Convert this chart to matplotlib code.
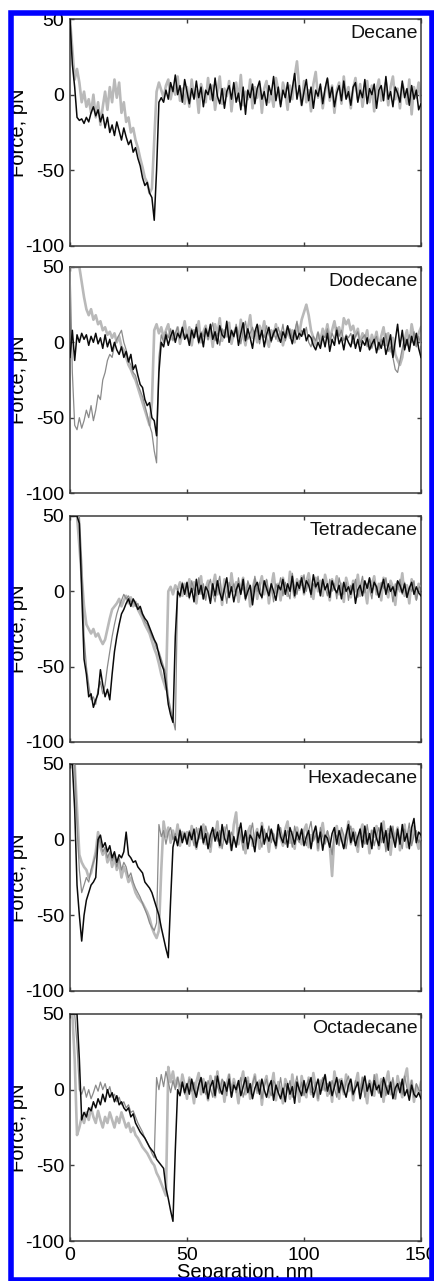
import numpy as np
import matplotlib
matplotlib.use("Agg")
import matplotlib.pyplot as plt
from matplotlib.patches import Rectangle

plt.rcParams['font.family'] = ['Liberation Sans', 'DejaVu Sans']
plt.rcParams['axes.unicode_minus'] = False

# ---------------- data (force in pN, sampled every 1 nm from 0 to 150 nm) ----------------
step_nm = 1.0
titles = ["Decane", "Dodecane", "Tetradecane", "Hexadecane", "Octadecane"]
xticks = [0, 50, 100, 150]
yticks = [-100, -50, 0, 50]

decane_black = [50, 20, 5, -15, -17, -16, -19, -15, -18, -12,
                -8, -14, -10, -18, -13, -22, -15, -25, -20, -27,
                -18, -24, -30, -22, -28, -33, -30, -38, -35, -42,
                -47, -55, -60, -58, -65, -68, -83, -50, -5, -2,
                -5, 3, -3, 8, 2, 13, 0, 6, -5, 10,
                2, -6, 4, -3, 9, -2, 5, -8, 3, 0,
                7, -4, 11, -1, -6, 4, -9, 2, 6, -3,
                8, -5, 1, -10, 5, -13, 3, -2, 7, -6,
                4, 9, -3, 2, -7, 6, 0, 12, -4, 5,
                -8, 3, -2, 8, -5, 4, 14, -3, 6, -7,
                2, 10, -4, 5, -9, 3, -1, 7, -6, 4,
                11, -2, 5, -8, 1, 6, -4, 9, -3, 2,
                -7, 5, 8, -5, 3, -2, 10, -6, 4, 0,
                7, -9, 3, 6, -4, 12, -3, 2, -8, 5,
                1, -5, 9, -2, 4, -7, 6, -3, 3, -10,
                -6]
decane_light = [50, 30, 10, 17, 8, -5, 2, -8, -3, -12,
                0, -15, -5, -20, -8, 2, -10, 5, -5, 10,
                -2, 8, -12, -5, -18, -15, -25, -22, -30, -35,
                -42, -48, -55, -58, -65, -62, -30, 2, 8, 3,
                -2, 6, 10, -3, 5, 0, 12, -4, 4, -6,
                5, -8, 10, -2, 3, -12, 7, 1, -5, 11,
                -3, 6, -10, 2, 12, -6, 4, -1, 9, -11,
                3, 8, -4, 13, -7, 2, -3, 10, -9, 5,
                -2, 7, -12, 4, 9, -5, 1, -8, 11, 3,
                -6, 8, 2, -10, 6, -3, 12, 22, 4, -7,
                9, -5, 3, -11, 7, 15, -2, 5, -9, 2,
                10, -4, 6, -12, 3, 8, -6, 12, -2, 5,
                -9, 4, 11, -3, 7, -8, 2, 9, -5, 6,
                -11, 3, 10, -4, 1, 8, -7, 5, 12, -3,
                4, -9, 7, 2, -6, 10, -13, 5, -2, 8,
                -4]

dodecane_black = [-10, 8, -12, 5, 0, 6, 2, 5, -2, 4,
                  0, 6, -1, 3, -4, 5, -3, 2, -6, 0,
                  -5, -8, -3, -10, -6, -13, -8, -18, -15, -22,
                  -28, -30, -38, -42, -40, -50, -52, -62, -20, 0,
                  -3, 5, -2, 4, 8, 0, 6, 3, 10, 2,
                  5, -2, 8, 3, 10, 0, 6, -3, 9, 4,
                  12, 2, 7, -1, 11, 5, 3, 14, 0, 8,
                  4, 10, -2, 6, 13, 1, 9, 3, -4, 7,
                  12, 2, 8, -3, 5, 10, 1, 6, 9, 4,
                  0, 7, 3, 11, 5, -1, 8, 2, 6, 4,
                  9, 1, 5, 3, -2, -5, 0, -4, 4, -3,
                  6, -6, 2, -2, 8, -1, 3, -5, 4, 0,
                  -3, 5, -4, 2, -6, 1, -2, 3, -5, -1,
                  2, -7, 0, -4, 3, -8, -2, 5, -10, 1,
                  12, -3, 8, -5, 2, -6, 4, -2, 6, -4,
                  -10]
dodecane_light = [50, 50, 50, 50, 50, 40, 30, 22, 18, 22,
                  15, 18, 12, 14, 8, 10, 5, 7, 3, 6,
                  0, 4, -3, -5, -10, -15, -18, -22, -25, -30,
                  -35, -40, -45, -50, -55, -40, 8, 12, 6, 10,
                  3, 8, 12, 2, 7, 4, 10, -1, 6, 14,
                  3, 10, -2, 8, 4, 14, 0, 7, 11, 2,
                  9, -3, 12, 5, 16, 1, 8, 4, 13, -1,
                  6, 10, 2, 15, 5, -2, 9, 18, 3, 7,
                  0, 11, 6, 14, 2, -3, 8, 4, 12, 1,
                  7, -2, 5, 10, 3, 8, 0, 12, 6, 15,
                  20, 25, 18, 8, 3, -2, 6, 1, 9, 4,
                  12, 2, 8, 14, 5, 10, 3, 16, 12, 15,
                  8, 11, 4, 9, -1, 6, 2, 8, -4, 5,
                  0, 7, -3, 4, 10, -2, 6, -6, 3, -8,
                  -12, -15, -10, 2, 8, -3, 12, 4, -2, 6,
                  10]
dodecane_mid = [50, -20, -55, -58, -50, -57, -52, -45, -50, -42,
                -52, -45, -35, -38, -25, -20, -12, -8, -10, -2,
                2, 5, 8, 0, -5, -12, -15, -20, -22, -28,
                -32, -36, -42, -48, -55, -60, -72, -80, -10, 5,
                0, 7, 3, 9, 1, 6, 10, 2, 8, 4,
                6, 0, 9, 3, 12, -1, 7, 4, 10, 2,
                8, 13, 1, 6, -2, 9, 5, 11, 0, 7,
                3, 12, 5, -1, 8, 14, 2, 6, 10, 4,
                9, -1, 7, 3, 11, 5, 0, 8, 2, 10,
                4, 12, 1, 6, 9, 3, 7, 14, 2, 8,
                5, 10, 0, -3, 4, 1, 7, -2, 5, 3,
                9, 0, 6, 2, 10, 4, 8, 1, 5, 3,
                6, -1, 4, 7, 0, 3, 5, -3, 2, -4,
                1, 4, -5, 2, -2, 6, -6, -3, -10, -18,
                -20, -12, -4, 3, -2, 5, 0, 7, -3, 4,
                -2]

tetradecane_black = [50, 50, 50, 50, 45, 0, -45, -55, -70, -68,
                     -77, -72, -68, -52, -62, -70, -65, -72, -55, -40,
                     -30, -22, -15, -12, -8, -5, -10, -5, -8, -12,
                     -10, -15, -18, -20, -24, -28, -32, -35, -42, -48,
                     -52, -62, -75, -82, -87, -30, 0, -3, 5, -2,
                     6, -4, 2, -7, 8, -2, 4, -5, 3, 0,
                     -8, 5, -3, 7, -1, -6, 2, 9, -4, 3,
                     -7, 1, 5, -2, 8, -5, 0, 4, -9, 3,
                     6, -1, -4, 7, 2, -3, 5, 0, -6, 4,
                     1, 8, -2, 5, 0, 10, -3, 6, 2, 9,
                     -1, 7, 4, -2, 11, 3, 6, -3, 8, 1,
                     5, -4, 7, 2, -1, 4, -5, 6, 0, 3,
                     -2, 5, -8, 1, 4, -3, 7, 2, 9, -1,
                     6, 3, -4, 2, 8, -2, 5, 0, 3, -3,
                     7, 4, -1, 5, -4, 2, 6, -2, 3, -1,
                     -3]
tetradecane_light = [50, 50, 50, 50, 30, 10, -10, -22, -25, -28,
                     -25, -30, -28, -32, -35, -32, -25, -18, -12, -10,
                     -8, -5, -10, -6, -3, -8, -4, -10, -7, -12,
                     -15, -18, -22, -25, -28, -33, -38, -42, -48, -55,
                     -60, -65, 0, 3, -2, 4, 1, 6, -3, 5,
                     -3, 8, 0, 6, -8, 4, 10, -5, 2, 7,
                     -6, 3, 11, -2, 5, -9, 8, 1, -4, 12,
                     0, 6, -7, 3, 9, -3, 5, -10, 2, 8,
                     -5, 4, 10, -2, 7, -8, 3, 12, -1, 5,
                     -6, 9, 2, -3, 13, 4, -4, 8, 1, 10,
                     -2, 6, 12, 3, -5, 9, 0, 7, -3, 11,
                     4, -6, 8, 1, 10, -2, 5, -7, 9, 3,
                     -4, 7, 0, 11, -3, 6, 2, -8, 8, 4,
                     10, -2, 5, -6, 9, 1, -4, 7, 3, -9,
                     6, 0, 12, -3, 4, -8, 8, 2, -5, 5,
                     -1]
tetradecane_mid = [50, 50, 50, 50, 50, 20, -30, -50, -62, -72,
                   -70, -75, -65, -60, -68, -62, -50, -40, -30, -22,
                   -15, -10, -6, -2, -5, -3, -7, -6, -10, -8,
                   -13, -16, -20, -22, -26, -30, -33, -38, -40, -45,
                   -50, -55, -70, -78, -85, -92, 2, -4, 6, 0,
                   4, -5, 7, 1, -3, 9, -2, 5, -6, 3,
                   8, -1, -7, 4, 10, -4, 2, -8, 6, 1,
                   5, -3, 9, -1, 3, -6, 7, 2, -4, 10,
                   0, 6, -5, 3, 8, -2, 4, -7, 5, 1,
                   9, -3, 6, 0, -5, 12, 2, -2, 7, 4,
                   11, 0, 8, -4, 5, 2, 10, -1, 6, 3,
                   -3, 8, 0, 5, -5, 9, 2, -2, 6, -6,
                   4, 1, 8, -4, 3, 10, -1, 5, 2, -5,
                   7, 0, -3, 6, 2, 9, -1, 4, -7, 5,
                   1, 8, -2, 6, -4, 3, 0, 7, -6, 2,
                   4]

hexadecane_black = [50, 50, 20, -30, -50, -67, -50, -40, -35, -30,
                    -28, -25, 0, 3, -5, -2, -8, -4, -12, -8,
                    -15, -10, -12, -8, 5, -10, -12, -15, -14, -18,
                    -20, -22, -28, -30, -32, -35, -40, -45, -50, -58,
                    -65, -72, -78, -40, -5, 2, -4, 6, -2, 4,
                    -3, 5, 0, 7, -5, 2, 9, -2, 4, -6,
                    3, 8, -1, 5, -4, 10, 1, -3, 6, -7,
                    2, -5, 4, 11, -2, 6, -6, 3, 0, -8,
                    5, 1, 9, -3, 4, -1, 7, 0, -4, 10,
                    2, -2, 6, -5, 8, 3, -3, 5, 0, 7,
                    -4, 2, 6, -6, 4, 9, -2, 5, -7, 3,
                    1, -5, 4, 8, -3, 6, 0, -6, 3, 10,
                    -2, 5, -4, 2, 7, -5, 9, -3, 4, -6,
                    8, 1, -4, 11, -2, 6, -7, 9, 2, -5,
                    7, -3, 10, -1, 4, -6, 8, 14, -2, 5,
                    3]
hexadecane_light = [50, 50, 50, 20, -10, -15, -18, -20, -25, -22,
                    -15, -8, 5, -5, -10, -6, -15, -10, -18, -12,
                    -20, -15, -25, -18, -22, -28, -25, -30, -35, -38,
                    -40, -42, -45, -48, -52, -58, -62, -65, -60, -20,
                    12, 2, 8, -2, 6, 0, 10, -4, 5, 1,
                    5, -4, 9, 2, -6, 7, 1, 10, -3, 4,
                    -8, 6, 2, 12, -5, 3, 8, -2, 5, -7,
                    10, 18, -3, 6, 1, -9, 5, 9, -4, 2,
                    7, -6, 11, 0, 4, -8, 6, 3, -5, 9,
                    1, -4, 7, 12, -2, 5, -6, 8, 2, -3,
                    6, 10, -5, 3, 0, 8, -7, 4, 11, -2,
                    5, -4, -24, 3, 9, -1, 6, -5, 2, 12,
                    -3, 7, 0, -8, 5, 10, -2, 4, -9, 6,
                    2, 9, -6, 3, 12, -4, 7, -10, 5, 1,
                    8, -7, 3, 10, -5, 6, -2, 9, 0, -6,
                    4]
hexadecane_mid = [50, 50, 50, 10, -20, -35, -30, -25, -28, -20,
                  -15, -10, 2, -2, -8, -5, -12, -8, -14, -10,
                  -18, -12, -20, -15, -18, -25, -22, -28, -32, -35,
                  -38, -42, -46, -50, -55, -58, -60, -55, 10, 2,
                  6, -3, 5, 8, 0, 4, -2, 7, 1, 5,
                  -2, 6, 3, -4, 8, 0, 5, -3, 9, 2,
                  -5, 4, 7, -1, 6, -6, 3, 10, -2, 5,
                  1, -4, 8, 2, -7, 6, 0, 4, 11, -3,
                  5, 2, -5, 7, 1, 9, -2, 4, -6, 3,
                  8, 0, -3, 6, 4, -5, 9, 1, -2, 7,
                  3, -4, 6, 12, -1, 4, -6, 8, 2, -3,
                  6, 0, -10, 5, 2, -4, 8, 3, -6, 4,
                  9, -1, 5, -5, 7, 2, -3, 10, 0, 6,
                  -4, 3, 8, -2, 5, -8, 4, 1, 9, -3,
                  5, 0, -6, 7, 2, 11, -4, 3, 6, -2,
                  1]

octadecane_black = [50, 50, 50, 50, 20, -20, -15, -18, -12, -14,
                    -8, -12, -6, -10, -3, -8, 0, -5, -2, -8,
                    -4, -10, -8, -12, -14, -12, -18, -16, -22, -25,
                    -28, -30, -32, -35, -38, -40, -42, -46, -48, -50,
                    -52, -65, -72, -80, -87, -40, 0, -4, 5, -2,
                    4, -3, 7, 0, -5, 3, 8, -2, 5, -6,
                    2, 6, -4, 9, 1, -3, 5, -1, 7, -5,
                    3, 0, 6, -4, 2, 8, -2, 4, -6, 1,
                    5, -3, 7, 0, -5, 2, 6, -7, 3, -2,
                    -6, 1, -8, 4, -3, 2, -9, 5, 0, -4,
                    6, -2, 3, 8, -5, 1, 7, -3, 4, 10,
                    -1, 5, -4, 2, 8, -2, 6, 0, -5, 3,
                    7, -3, 1, 5, -6, 2, 9, -1, 4, -4,
                    6, 0, 3, -5, 8, 2, -3, 5, -6, 1,
                    4, -2, 7, -4, 0, -7, 3, -3, -5, -2,
                    -6]
octadecane_light = [50, 50, 20, -30, -25, -18, -22, -15, -20, -12,
                    -18, -22, -14, -20, -25, -18, -22, -15, -20, -25,
                    -18, -22, -15, -20, -25, -22, -28, -25, -30, -32,
                    -35, -38, -40, -42, -45, -48, -50, -55, -58, -62,
                    -66, -70, 15, 5, 12, 2, 8, -2, 10, 3,
                    -6, 8, 2, -9, 5, 11, -3, 7, 0, -7,
                    9, 3, -5, 12, -2, 6, -8, 4, 10, -4,
                    7, 1, -9, 5, 12, -3, 8, -6, 3, 10,
                    -2, 6, -10, 4, 9, -5, 2, 11, -7, 5,
                    0, -9, 7, 3, -6, 10, -2, 5, -8, 9,
                    1, -5, 8, -3, 11, 2, -7, 6, 0, 9,
                    -4, 5, -8, 12, 2, -6, 7, -3, 10, -1,
                    6, -7, 4, 11, -5, 8, 0, -9, 6, 3,
                    -4, 10, -2, 7, -8, 5, 12, -3, 6, -6,
                    9, 1, -5, 8, 14, -4, 6, -8, 3, -2,
                    5]
octadecane_mid = [50, 50, 50, 30, 0, -3, 2, -5, 0, -6,
                  -2, 3, -1, 5, 0, 4, -2, 2, -5, -3,
                  -8, -5, -10, -8, -12, -10, -15, -14, -18, -22,
                  -25, -28, -32, -35, -38, -42, -45, 8, 0, 10,
                  2, 12, 5, -2, 6, 0, 8, 2, 5, -3,
                  2, 7, -1, 5, -4, 3, 8, 0, -3, 6,
                  1, -5, 9, 2, -2, 7, 4, -4, 10, 0,
                  5, -2, 3, 8, -5, 1, 6, -3, 4, 9,
                  -1, 5, -6, 2, 7, 0, -4, 6, 3, -2,
                  8, -3, 4, 0, 6, -5, 2, 9, -1, 5,
                  -4, 3, 7, -2, 0, 5, -6, 3, 8, -1,
                  4, -3, 6, 1, -5, 7, 2, -2, 5, 9,
                  0, -4, 6, 3, -1, 8, -5, 2, 6, -3,
                  10, 1, -2, 5, 7, -4, 3, 0, 8, -6,
                  2, 5, -3, 9, 1, -2, 6, -5, 4, 0,
                  -2]

panels = [
    (decane_black, decane_light, None),
    (dodecane_black, dodecane_light, dodecane_mid),
    (tetradecane_black, tetradecane_light, tetradecane_mid),
    (hexadecane_black, hexadecane_light, hexadecane_mid),
    (octadecane_black, octadecane_light, octadecane_mid),
]

# ---------------- figure ----------------
W, H = 435, 1281
fig = plt.figure(figsize=(W / 100, H / 100), dpi=100)
fig.patch.set_facecolor("white")

left_px, right_px = 70, 421
tops = [19, 267, 516, 764, 1014]
bottoms = [246, 493, 742, 991, 1241]

spine_col = "#3c3c3c"
for k, (title, (blk, lgt, mid)) in enumerate(zip(titles, panels)):
    ax = fig.add_axes([left_px / W, 1 - bottoms[k] / H,
                       (right_px - left_px) / W, (bottoms[k] - tops[k]) / H])
    if lgt is not None:
        ax.plot(np.arange(len(lgt)) * step_nm, lgt, color="#b9b9b9", lw=1.9, zorder=2)
    if mid is not None:
        ax.plot(np.arange(len(mid)) * step_nm, mid, color="#8a8a8a", lw=0.9, zorder=3)
    ax.plot(np.arange(len(blk)) * step_nm, blk, color="#0a0a0a", lw=1.1, zorder=4)
    ax.set_xlim(0, 150)
    ax.set_ylim(-100, 50)
    ax.set_xticks(xticks)
    ax.set_yticks(yticks)
    ax.tick_params(direction="in", length=3, width=1, colors=spine_col,
                   labelcolor="black", labelsize=14, top=True, right=True, pad=4)
    for s in ax.spines.values():
        s.set_color(spine_col)
        s.set_linewidth(1.1)
    if k < 4:
        ax.set_xticklabels([])
    else:
        ax.set_xlabel("Separation, nm", fontsize=14.5, va="top")
        ax.xaxis.set_label_coords(0.5, -0.097)
    ax.set_ylabel("Force, pN", fontsize=14.5)
    ax.yaxis.set_label_coords(-0.12, 0.5)
    ax.text(0.99, 0.975, title, transform=ax.transAxes, ha="right", va="top",
            fontsize=14, color="#111111")

# blue frame drawn on top
fig.add_artist(Rectangle((11 / W, 1 - 1279.5 / H), (432 - 11) / W, (1279.5 - 12.5) / H,
                         transform=fig.transFigure, fill=False, edgecolor="#0000ff",
                         linewidth=4.0, zorder=100))

fig.savefig("out.png", dpi=100, facecolor="white")
